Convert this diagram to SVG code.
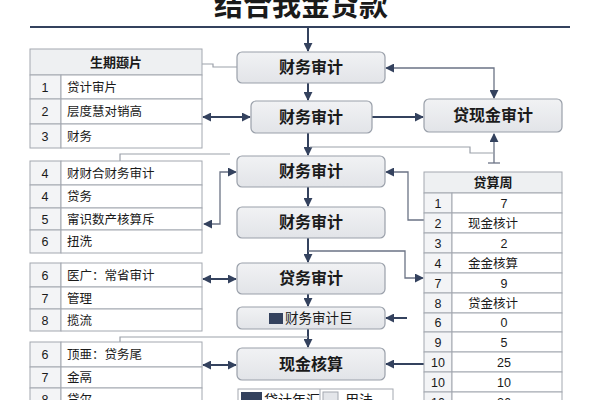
<svg xmlns="http://www.w3.org/2000/svg" width="600" height="400" viewBox="0 0 600 400">
<defs>
<marker id="ah" viewBox="0 0 10 10" refX="9" refY="5" markerWidth="9" markerHeight="9" markerUnits="userSpaceOnUse" orient="auto-start-reverse"><path d="M0,0 L10,5 L0,10 z" fill="#34425e"/></marker>
<linearGradient id="ng" x1="0" y1="0" x2="0" y2="1"><stop offset="0" stop-color="#f1f2f4"/><stop offset="1" stop-color="#e2e4e8"/></linearGradient>
<style>
text{font-family:'Liberation Sans','Noto Sans CJK SC',sans-serif;fill:#1a1a1a}
.node{fill:url(#ng);stroke:#9aa0aa;stroke-width:1.2}
.nt{font-size:16px;font-weight:bold;text-anchor:middle}
.cell{fill:#ffffff;stroke:#a3a8b0;stroke-width:1}
.num{fill:#f3f4f6;stroke:#a3a8b0;stroke-width:1}
.hdr{fill:#eef0f2;stroke:#a3a8b0;stroke-width:1}
.tt{font-size:12.5px}
.tc{font-size:12.5px;text-anchor:middle}
.th{font-size:13px;font-weight:bold;text-anchor:middle}
.main{fill:none;stroke:#34425e;stroke-width:2}
.thin{fill:none;stroke:#6b7385;stroke-width:1.3}
.gray{fill:none;stroke:#9ca1aa;stroke-width:1.2}
</style>
</defs>
<rect width="600" height="400" fill="#ffffff"/>
<text x="301" y="16" font-size="29" font-weight="bold" text-anchor="middle">结合我金贷款</text>
<line x1="30" y1="27" x2="570" y2="27" stroke="#34425e" stroke-width="2"/>

<g id="connectors">
<path class="main" d="M308,27 V51" marker-end="url(#ah)"/>
<path class="main" d="M308,83 V100" marker-end="url(#ah)"/>
<path class="main" d="M308,133 V155" marker-end="url(#ah)"/>
<path class="main" d="M308,187 V206" marker-end="url(#ah)"/>
<path class="main" d="M308,238 V262" marker-end="url(#ah)"/>
<path class="main" d="M308,294 V306" marker-end="url(#ah)"/>
<path class="main" d="M308,329 V347" marker-end="url(#ah)"/>
<path class="main" d="M372,117 H423" marker-end="url(#ah)"/>
<path class="thin" d="M386,68 H494 V98" marker-start="url(#ah)" marker-end="url(#ah)"/>
<path class="thin" d="M494,163 V134" marker-end="url(#ah)"/>
<path class="thin" d="M488,163 H500"/>
<path class="gray" d="M310,147 H470 V153 H494"/>
<path class="gray" d="M202,64 H213 V67 H237"/>
<path class="main" d="M203,117 H250" marker-start="url(#ah)" marker-end="url(#ah)"/>
<path class="gray" d="M120,161 V154 H230"/>
<path class="thin" d="M204,224 H220 V172 H236" marker-start="url(#ah)" marker-end="url(#ah)"/>
<path class="main" d="M203,279 H236" marker-start="url(#ah)" marker-end="url(#ah)"/>
<path class="gray" d="M120,342 V337 H308"/>
<path class="main" d="M203,365 H236" marker-start="url(#ah)" marker-end="url(#ah)"/>
<path class="thin" d="M424,220 H408 V172 H386" marker-end="url(#ah)"/>
<path class="thin" d="M308,251 H405 V278 H423" marker-end="url(#ah)"/>
<path class="main" d="M407,318 H386" marker-end="url(#ah)"/>
<path class="main" d="M424,364 H386" marker-end="url(#ah)"/>
</g>

<g id="node1"><rect class="node" x="237" y="52" width="148" height="31" rx="5"/><text class="nt" x="311" y="73">财务审计</text></g>
<g id="node2"><rect class="node" x="251" y="101" width="121" height="32" rx="5"/><text class="nt" x="311" y="123">财务审计</text></g>
<g id="node3"><rect class="node" x="237" y="156" width="148" height="31" rx="5"/><text class="nt" x="311" y="177">财务审计</text></g>
<g id="node4"><rect class="node" x="237" y="207" width="148" height="31" rx="5"/><text class="nt" x="311" y="228">财务审计</text></g>
<g id="node5"><rect class="node" x="237" y="263" width="148" height="31" rx="5"/><text class="nt" x="311" y="284">贷务审计</text></g>
<g id="node6"><rect class="node" x="237" y="307" width="148" height="22" rx="5"/><rect x="269" y="313" width="14" height="11" fill="#34425e"/><text x="285" y="323" font-size="13.5">财务审计巨</text></g>
<g id="node7"><rect class="node" x="237" y="348" width="148" height="32" rx="5"/><text class="nt" x="311" y="370">现金核算</text></g>
<g id="node8"><rect class="node" x="424" y="99" width="138" height="33" rx="5"/><text class="nt" x="493" y="121">贷现金审计</text></g>

<g id="legend">
<rect x="238" y="389" width="155" height="24" fill="#ffffff" stroke="#a3a8b0"/>
<line x1="320" y1="389" x2="320" y2="413" stroke="#a3a8b0"/>
<rect x="241" y="392" width="21" height="14" fill="#34425e"/>
<text x="264" y="405" font-size="14">贷计年汇</text>
<rect x="323" y="392" width="15" height="14" fill="#e4e6ea" stroke="#a3a8b0"/>
<text x="345" y="405" font-size="14">用法</text>
</g>

<g id="table1">
<rect class="hdr" x="30" y="49" width="172" height="26" fill="#f6f7f8"/>
<text class="th" x="116" y="67">生期颋片</text>
<rect class="num" x="30" y="75" width="31" height="24"/><rect class="cell" x="61" y="75" width="141" height="24"/>
<rect class="num" x="30" y="99" width="31" height="25"/><rect class="cell" x="61" y="99" width="141" height="25"/>
<rect class="num" x="30" y="124" width="31" height="24"/><rect class="cell" x="61" y="124" width="141" height="24"/>
<text class="tc" x="45" y="92">1</text><text class="tt" x="67" y="92">贷计审片</text>
<text class="tc" x="45" y="116">2</text><text class="tt" x="67" y="116">层度慧对销高</text>
<text class="tc" x="45" y="141">3</text><text class="tt" x="67" y="141">财务</text>
</g>

<g id="table2">
<rect class="num" x="30" y="161" width="31" height="24"/><rect class="cell" x="61" y="161" width="141" height="24"/>
<rect class="num" x="30" y="185" width="31" height="23"/><rect class="cell" x="61" y="185" width="141" height="23"/>
<rect class="num" x="30" y="208" width="31" height="22"/><rect class="cell" x="61" y="208" width="141" height="22"/>
<rect class="num" x="30" y="230" width="31" height="23"/><rect class="cell" x="61" y="230" width="141" height="23"/>
<text class="tc" x="45" y="178">4</text><text class="tt" x="67" y="178">财财合财务审计</text>
<text class="tc" x="45" y="201">4</text><text class="tt" x="67" y="201">贷务</text>
<text class="tc" x="45" y="224">5</text><text class="tt" x="67" y="224">甯识数产核算斥</text>
<text class="tc" x="45" y="246">6</text><text class="tt" x="67" y="246">扭洗</text>
</g>

<g id="table3">
<rect class="num" x="30" y="263" width="31" height="24"/><rect class="cell" x="61" y="263" width="141" height="24"/>
<rect class="num" x="30" y="287" width="31" height="22"/><rect class="cell" x="61" y="287" width="141" height="22"/>
<rect class="num" x="30" y="309" width="31" height="22"/><rect class="cell" x="61" y="309" width="141" height="22"/>
<text class="tc" x="45" y="280">6</text><text class="tt" x="67" y="280">医广：常省审计</text>
<text class="tc" x="45" y="303">7</text><text class="tt" x="67" y="303">管理</text>
<text class="tc" x="45" y="325">8</text><text class="tt" x="67" y="325">揽流</text>
</g>

<g id="table4">
<rect class="num" x="30" y="342" width="31" height="25"/><rect class="cell" x="61" y="342" width="141" height="25"/>
<rect class="num" x="30" y="367" width="31" height="21"/><rect class="cell" x="61" y="367" width="141" height="21"/>
<rect class="num" x="30" y="388" width="31" height="24"/><rect class="cell" x="61" y="388" width="141" height="24"/>
<text class="tc" x="45" y="359">6</text><text class="tt" x="67" y="359">顶亜：贷务尾</text>
<text class="tc" x="45" y="382">7</text><text class="tt" x="67" y="382">金鬲</text>
<text class="tc" x="45" y="404">8</text><text class="tt" x="67" y="404">贷尔</text>
</g>

<g id="table5">
<rect class="hdr" x="424" y="172" width="138" height="21"/>
<text class="th" x="493" y="187">贷算周</text>
<rect class="num" x="424" y="193" width="28" height="20"/><rect class="cell" x="452" y="193" width="110" height="20"/>
<rect class="num" x="424" y="213" width="28" height="20"/><rect class="cell" x="452" y="213" width="110" height="20"/>
<rect class="num" x="424" y="233" width="28" height="20"/><rect class="cell" x="452" y="233" width="110" height="20"/>
<rect class="num" x="424" y="253" width="28" height="20"/><rect class="cell" x="452" y="253" width="110" height="20"/>
<rect class="num" x="424" y="273" width="28" height="20"/><rect class="cell" x="452" y="273" width="110" height="20"/>
<rect class="num" x="424" y="293" width="28" height="20"/><rect class="cell" x="452" y="293" width="110" height="20"/>
<rect class="num" x="424" y="313" width="28" height="19"/><rect class="cell" x="452" y="313" width="110" height="19"/>
<rect class="num" x="424" y="332" width="28" height="20"/><rect class="cell" x="452" y="332" width="110" height="20"/>
<rect class="num" x="424" y="352" width="28" height="20"/><rect class="cell" x="452" y="352" width="110" height="20"/>
<rect class="num" x="424" y="372" width="28" height="20"/><rect class="cell" x="452" y="372" width="110" height="20"/>
<rect class="num" x="424" y="392" width="28" height="20"/><rect class="cell" x="452" y="392" width="110" height="20"/>
<text class="tc" x="438" y="208">1</text><text class="tc" x="504" y="208">7</text>
<text class="tc" x="438" y="228">2</text><text class="tc" x="493" y="228">现金核计</text>
<text class="tc" x="438" y="248">3</text><text class="tc" x="504" y="248">2</text>
<text class="tc" x="438" y="268">4</text><text class="tc" x="493" y="268">金金核算</text>
<text class="tc" x="438" y="288">7</text><text class="tc" x="504" y="288">9</text>
<text class="tc" x="438" y="308">8</text><text class="tc" x="493" y="308">贷金核计</text>
<text class="tc" x="438" y="327">6</text><text class="tc" x="504" y="327">0</text>
<text class="tc" x="438" y="347">9</text><text class="tc" x="504" y="347">5</text>
<text class="tc" x="438" y="367">10</text><text class="tc" x="504" y="367">25</text>
<text class="tc" x="438" y="387">10</text><text class="tc" x="504" y="387">10</text>
<text class="tc" x="438" y="407">10</text><text class="tc" x="504" y="407">26</text>
</g>
</svg>
